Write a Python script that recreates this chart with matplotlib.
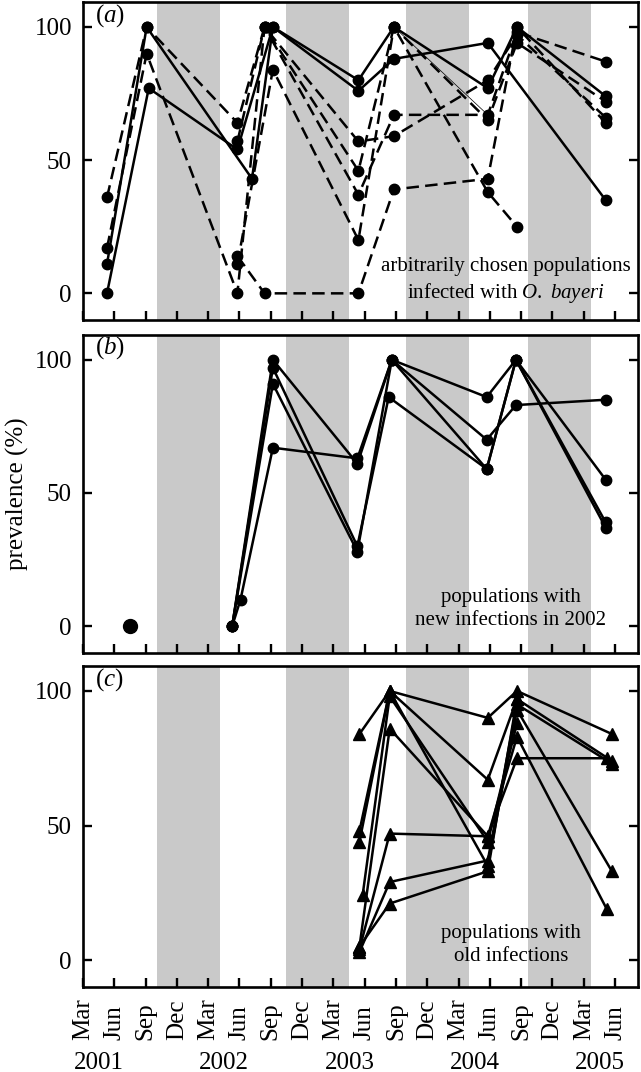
import matplotlib
matplotlib.use('Agg')
import matplotlib.pyplot as plt
from matplotlib.transforms import blended_transform_factory

plt.rcParams['font.family'] = ['Liberation Serif', 'DejaVu Serif']
plt.rcParams['mathtext.fontset'] = 'custom'
plt.rcParams['mathtext.rm'] = 'Liberation Serif'
plt.rcParams['mathtext.it'] = 'Liberation Serif:italic'

# x = months since March 2001
month_ticks = list(range(0, 52, 3))
month_labels = ['Mar', 'Jun', 'Sep', 'Dec'] * 4 + ['Mar', 'Jun']
year_pos = [0, 12, 24, 36, 48]
year_labels = ['2001', '2002', '2003', '2004', '2005']

# winter shading (start, end) in months
winters = [(7.1, 13.1), (19.5, 25.5), (31.0, 37.0), (42.7, 48.7)]

# panel (a): arbitrarily chosen populations, (x, y) with line style
a_series = [
    ('-',  [2.3, 6.3, 14.8, 18.2, 26.4, 29.8, 38.8, 50.1],
           [0, 77, 54, 100, 76, 88, 94, 35]),
    ('-',  [2.3, 6.1, 16.2, 18.2, 26.4, 29.8, 38.8, 41.6, 50.1],
           [11, 100, 43, 100, 80, 100, 77, 100, 74]),
    ('--', [2.3, 6.1, 14.8, 17.4, 26.4, 29.8, 38.8, 41.6],
           [17, 90, 0, 100, 46, 100, 38, 25]),
    ('--', [2.3, 6.1, 14.8, 17.4, 26.4, 29.8, 38.8, 41.6, 50.1],
           [36, 100, 64, 100, 57, 59, 80, 97, 66]),
    ('--', [14.8, 17.4, 26.4, 29.8, 38.8, 41.6, 50.1],
           [57, 100, 37, 67, 67, 98, 87]),
    ('--', [14.8, 17.4, 26.4, 29.8, 38.8, 41.6, 50.1],
           [14, 0, 0, 39, 43, 100, 64]),
    ('--', [14.8, 18.2, 26.4, 29.8, 38.8, 41.6, 50.1],
           [11, 84, 20, 100, 65, 94, 72]),
]
a_thin_x = [29.8, 38.8]
a_thin_y = [100, 67]

# panel (b): new infections in 2002
b_single_x = [4.5]
b_single_y = [0]
b_series = [
    ([14.3, 15.1, 18.2, 26.3, 29.6, 38.7, 41.5, 50.1], [0, 10, 67, 63, 100, 86, 100, 55]),
    ([14.3, 18.2, 26.3, 29.6, 38.7, 41.5, 50.1], [0, 100, 61, 100, 70, 83, 85]),
    ([14.3, 18.2, 26.3, 29.3, 38.7, 41.5, 50.1], [0, 97, 30, 86, 59, 100, 39]),
    ([14.3, 18.2, 26.3, 29.6, 38.7, 41.5, 50.1], [0, 91, 28, 100, 59, 100, 37]),
]

# panel (c): old infections
c_series = [
    ([26.5, 29.4, 38.8, 41.6, 50.7], [84, 100, 90, 100, 84]),
    ([26.5, 29.4, 38.8, 41.6, 50.7], [48, 100, 67, 97, 74]),
    ([26.5, 29.4, 38.8, 41.6, 50.7], [44, 100, 35, 93, 33]),
    ([26.8, 29.4, 38.8, 41.6], [24, 98, 44, 88]),
    ([26.5, 29.4, 38.8, 41.6, 50.2], [5, 86, 46, 83, 19]),
    ([26.5, 29.4, 38.8, 41.6, 50.2], [4, 47, 46, 75, 75]),
    ([26.5, 29.4, 38.8, 41.6, 50.7], [3, 29, 37, 95, 73]),
    ([26.5, 29.4, 38.8, 41.6], [5, 21, 33, 97]),
]

fig = plt.figure(figsize=(6.41, 10.72), dpi=100)
left, width = 0.1295, 0.8658
ax_a = fig.add_axes([left, 0.7015, width, 0.2965])
ax_b = fig.add_axes([left, 0.391, width, 0.2965])
ax_c = fig.add_axes([left, 0.0793, width, 0.2995])

fs = 18
for ax in (ax_a, ax_b, ax_c):
    for s, e in winters:
        ax.axvspan(s, e, color='#c9c9c9', lw=0, zorder=0)
    ax.set_xlim(0, 53.2)
    ax.set_ylim(-10, 109.3)
    ax.set_xticks(month_ticks)
    ax.set_xticklabels([])
    ax.set_yticks([0, 50, 100])
    ax.tick_params(direction='in', length=6.5, width=1.7, labelsize=fs,
                   right=True, top=False, pad=8)
    for sp in ax.spines.values():
        sp.set_linewidth(1.9)

lw = 1.8
for ls, xs, ys in a_series:
    ax_a.plot(xs, ys, ls, color='black', lw=lw, marker='o', ms=7.5,
              dashes=(5, 2.5) if ls == '--' else (None, None), zorder=3)
ax_a.plot(a_thin_x, a_thin_y, '-', color='black', lw=0.5, zorder=2)

ax_b.plot(b_single_x, b_single_y, 'o', color='black', ms=10, zorder=3)
for xs, ys in b_series:
    ax_b.plot(xs, ys, '-', color='black', lw=lw, marker='o', ms=7.5, zorder=3)

for xs, ys in c_series:
    ax_c.plot(xs, ys, '-', color='black', lw=lw, marker='^', ms=8, zorder=3)

ax_a.text(0.022, 0.94, r'($\it{a}$)', transform=ax_a.transAxes, fontsize=fs)
ax_b.text(0.022, 0.94, r'($\it{b}$)', transform=ax_b.transAxes, fontsize=fs)
ax_c.text(0.022, 0.94, r'($\it{c}$)', transform=ax_c.transAxes, fontsize=fs)

ax_a.text(40.5, 4.8, 'arbitrarily chosen populations\n' + r'infected with $\it{O.\ bayeri}$',
          ha='center', va='center', fontsize=15, linespacing=1.3)
ax_b.text(41.0, 6.5, 'populations with\nnew infections in 2002',
          ha='center', va='center', fontsize=15, linespacing=1.3)
ax_c.text(41.0, 5.5, 'populations with\nold infections',
          ha='center', va='center', fontsize=15, linespacing=1.3)

ax_b.set_ylabel('prevalence (%)', fontsize=fs, labelpad=4)

tr = blended_transform_factory(ax_c.transData, fig.transFigure)
for m, lab in zip(month_ticks, month_labels):
    ax_c.text(m, 0.030, lab, rotation=90, ha='center', va='bottom',
              fontsize=fs, transform=tr)
for m, lab in zip(year_pos, year_labels):
    ax_c.text(m - 0.85, -0.002, lab, ha='left', va='bottom',
              fontsize=fs, transform=tr)

fig.savefig('out.png', dpi=100)
